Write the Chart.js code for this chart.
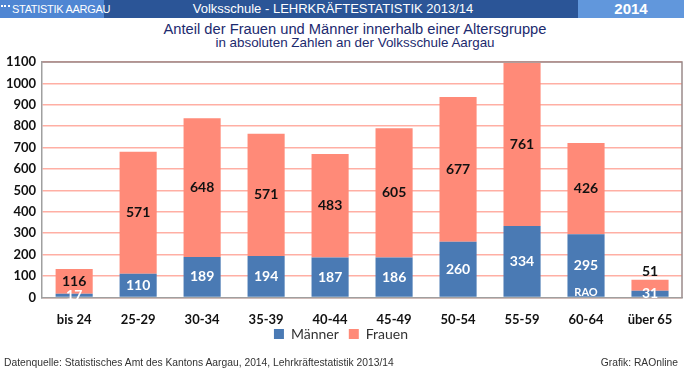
<!DOCTYPE html>
<html lang="de">
<head>
<meta charset="UTF-8">
<title>Lehrkräftestatistik Aargau</title>
<script src="https://cdn.jsdelivr.net/npm/chart.js"></script>
<style>
  body { margin: 0; width: 684px; height: 373px; position: relative; background: #fff; font-family: "Liberation Sans", Arial, sans-serif; overflow: hidden; }
  .kopf { position: absolute; left: 0; top: 0; width: 684px; height: 18px; background: #2b5597; color: #fff; white-space: nowrap; }
  .kopf .links { position: absolute; left: 0; top: 0; width: 104px; height: 18px; background: #4f86d3; font-size: 11px; line-height: 18px; letter-spacing: -0.3px; }
  .kopf .links span { margin-left: 12px; }
  .kopf .punkte { position: absolute; left: 1px; top: 5px; width: 9px; height: 5px; border-top: 2px dotted #fff; }
  .kopf .mitte { position: absolute; left: 128px; top: 0; width: 410px; text-align: center; font-size: 13px; line-height: 18px; }
  .kopf .rechts { position: absolute; left: 578px; top: 0; width: 106px; height: 18px; background: #6197dc; text-align: center; font-size: 15px; font-weight: bold; line-height: 18px; }
  .titel { position: absolute; left: 13px; width: 684px; text-align: center; color: #1c2a6e; white-space: nowrap; }
  .t1 { top: 21px; font-size: 14.7px; }
  .t2 { top: 35px; font-size: 13.4px; }
  .fuss { position: absolute; top: 357px; font-size: 10.3px; color: #333; }
  canvas { position: absolute; left: 0; top: 0; }
</style>
</head>
<body>

<div class="kopf">
  <div class="links"><div class="punkte"></div><span>STATISTIK AARGAU</span></div>
  <div class="mitte">Volksschule - LEHRKRÄFTESTATISTIK 2013/14</div>
  <div class="rechts">2014</div>
</div>
<div class="titel t1">Anteil der Frauen und Männer innerhalb einer Altersgruppe</div>
<div class="titel t2">in absoluten Zahlen an der Volksschule Aargau</div>

<div style="position:absolute; left:0; top:0; width:684px; height:373px;">
  <canvas id="chart"></canvas>
</div>

<div class="fuss" style="left:4px;">Datenquelle: Statistisches Amt des Kantons Aargau, 2014, Lehrkräftestatistik 2013/14</div>
<div class="fuss" style="right:6px;">Grafik: RAOnline</div>

<script>
  const altersgruppen = ['bis 24', '25-29', '30-34', '35-39', '40-44', '45-49', '50-54', '55-59', '60-64', 'über 65'];
  const maenner = [17, 110, 189, 194, 187, 186, 260, 334, 295, 31];
  const frauen = [116, 571, 648, 571, 483, 605, 677, 761, 426, 51];

  const blau = '#4a7ab4';
  const lachs = '#ff8a78';

  // Legende naeher an die Achsenbeschriftung schieben
  const legendeHoch = {
    id: 'legendeHoch',
    afterLayout(chart) {
      chart.legend.top -= 18;
      chart.legend.bottom -= 18;
    }
  };

  // Werte in die Balken schreiben
  const werteBeschriften = {
    id: 'werte',
    afterDraw(chart) {
      const ctx = chart.ctx;
      ctx.save();
      ctx.textAlign = 'center';
      ctx.textBaseline = 'middle';
      ctx.font = 'bold 14px Lato';
      chart.data.datasets.forEach((ds, i) => {
        const meta = chart.getDatasetMeta(i);
        meta.data.forEach((bar, j) => {
          const hoehe = bar.base - bar.y;
          let y = bar.y + hoehe / 2;
          if (i === 1 && hoehe < 20) y = bar.y - 8;
          ctx.fillStyle = i === 0 ? '#fff' : '#111';
          ctx.fillText(ds.data[j], bar.x, y);
        });
      });
      // Wasserzeichen
      const b = chart.getDatasetMeta(0).data[8];
      ctx.fillStyle = '#fff';
      ctx.font = 'bold 11px Lato';
      ctx.fillText('RAO', b.x, chart.chartArea.bottom - 5);
      // Rahmen oben und rechts
      const a = chart.chartArea;
      ctx.strokeStyle = '#9a8a8a';
      ctx.lineWidth = 1.5;
      ctx.beginPath();
      ctx.moveTo(a.left, a.top);
      ctx.lineTo(a.right, a.top);
      ctx.lineTo(a.right, a.bottom);
      ctx.stroke();
      ctx.restore();
    }
  };

  new Chart(document.getElementById('chart'), {
    type: 'bar',
    data: {
      labels: altersgruppen,
      datasets: [
        { label: 'Männer', data: maenner, backgroundColor: blau },
        { label: 'Frauen', data: frauen, backgroundColor: lachs }
      ]
    },
    options: {
      responsive: true,
      maintainAspectRatio: false,
      animation: false,
      layout: { padding: { top: 62, right: 2, left: 0, bottom: 4 } },
      datasets: { bar: { categoryPercentage: 1, barPercentage: 0.58 } },
      plugins: {
        tooltip: { enabled: false },
        legend: {
          position: 'bottom',
          labels: {
            boxWidth: 10, boxHeight: 10, padding: 10,
            color: '#333',
            font: { family: 'Lato', size: 14 }
          }
        }
      },
      scales: {
        x: {
          stacked: true,
          grid: { display: false },
          border: { color: '#a0a0a0', width: 1.5 },
          ticks: { color: '#111', font: { family: 'Lato', size: 13, weight: 'bold' }, padding: 7 }
        },
        y: {
          stacked: true,
          min: 0,
          max: 1100,
          z: 1,
          grid: { color: 'rgba(255,110,90,0.55)', lineWidth: 1.5, drawTicks: false },
          border: { color: '#a0a0a0', width: 1.5 },
          ticks: {
            stepSize: 100, color: '#111', padding: 6,
            font: { family: 'Lato', size: 13, weight: 'bold' },
            callback: v => String(v)
          }
        }
      }
    },
    plugins: [legendeHoch, werteBeschriften]
  });
</script>
</body>
</html>
